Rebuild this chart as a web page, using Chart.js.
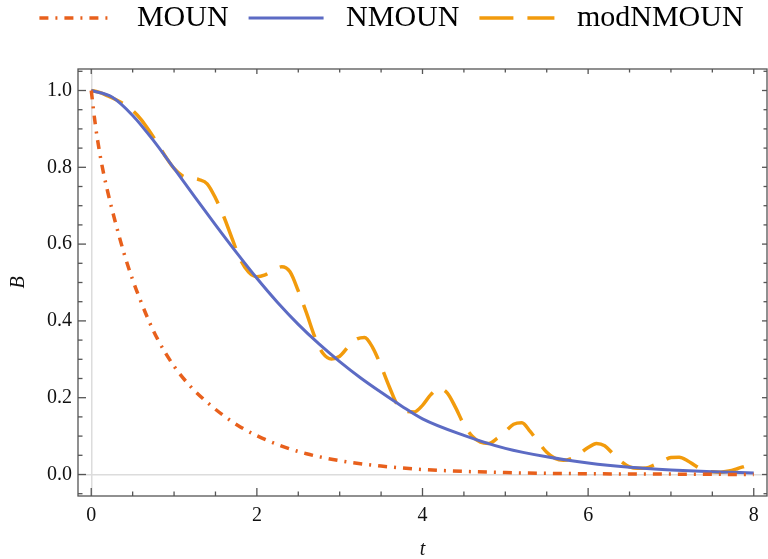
<!DOCTYPE html>
<html>
<head>
<meta charset="utf-8">
<script src="https://cdn.jsdelivr.net/npm/chart.js@4"></script>
<style>
  html,body{margin:0;padding:0;background:#fff;}
  #wrap{width:768px;height:559px;position:relative;}
</style>
</head>
<body>
<div id="wrap"><canvas id="c"></canvas></div>
<script>
// values
const tMoun = [0,0.05,0.1,0.15,0.2,0.3,0.4,0.5,0.6,0.7,0.8,1.0,1.2,1.4,1.6,1.8,2.0,2.3,2.6,3.0,3.5,4,5,6,7,8];
const moun  = [1.0,0.91,0.84,0.783,0.735,0.65,0.573,0.507,0.45,0.398,0.353,0.282,0.229,0.188,0.153,0.124,0.101,0.074,0.054,0.036,0.022,0.013,0.005,0.002,0.001,0.0];

const tNmoun = [0,0.25,0.5,0.75,1.0,1.25,1.5,1.75,2.0,2.25,2.5,2.75,3.0,3.25,3.5,3.75,4.0,4.5,5.0,5.5,6.0,6.5,7.0,7.5,8.0];
const nmoun  = [1.0,0.983,0.935,0.87,0.797,0.723,0.65,0.579,0.511,0.448,0.391,0.34,0.294,0.252,0.214,0.178,0.145,0.102,0.068,0.046,0.03,0.019,0.012,0.007,0.004];

const tMod = [0,0.1,0.2,0.3,0.4,0.5,0.6,0.7,0.8,0.9,1.0,1.1,1.2,1.3,1.4,1.5,1.6,1.7,1.8,1.9,
  2.0,2.1,2.2,2.3,2.4,2.5,2.6,2.7,2.8,2.9,3.0,3.1,3.2,3.3,3.4,3.5,3.6,3.7,3.8,3.9,
  4.0,4.1,4.2,4.3,4.4,4.5,4.6,4.7,4.8,4.9,5.0,5.1,5.2,5.3,5.4,5.5,5.6,5.7,5.8,5.9,
  6.0,6.1,6.2,6.3,6.4,6.5,6.6,6.7,6.8,6.9,7.0,7.1,7.2,7.3,7.4,7.5,7.6,7.7,7.8,7.9,8.0];
const modNmoun = [1.0,0.995,0.986,0.976,0.964,0.948,0.925,0.895,0.862,0.827,0.797,0.778,0.772,0.768,0.757,0.72,0.672,0.615,0.56,0.527,
  0.515,0.52,0.532,0.541,0.528,0.478,0.42,0.358,0.315,0.301,0.308,0.332,0.352,0.357,0.33,0.282,0.228,0.18,0.165,0.163,
  0.18,0.208,0.224,0.212,0.174,0.13,0.1,0.084,0.081,0.094,0.112,0.131,0.135,0.112,0.084,0.058,0.042,0.037,0.042,0.055,
  0.07,0.081,0.075,0.054,0.034,0.02,0.016,0.017,0.025,0.035,0.044,0.045,0.036,0.022,0.011,0.007,0.006,0.009,0.015,0.022,0.029];

const xMajor = [0,2,4,6,8];
const yMajor = [0,0.2,0.4,0.6,0.8,1.0];

const xy = (ts, bs) => ts.map((t,i)=>({x:t, y:bs[i]}));
const isMajor = (v, list) => list.some(m => Math.abs(m - v) < 1e-6);
const SERIF = '"Liberation Serif", "Times New Roman", serif';
const zeroGrid = c => c.tick && Math.abs(c.tick.value) < 1e-9 ? '#dcdcdc' : 'rgba(0,0,0,0)';

// frame with inward ticks, like the original
const frame = {
  id:'frame',
  afterDatasetsDraw(chart){
    const {ctx, chartArea:{left,right,top,bottom}, scales:{x,y}} = chart;
    ctx.save();
    ctx.strokeStyle = '#555';
    ctx.lineWidth = 1.3;
    ctx.strokeRect(left, top, right-left, bottom-top);
    const seg = (a,b,c,d)=>{ ctx.beginPath(); ctx.moveTo(a,b); ctx.lineTo(c,d); ctx.stroke(); };
    x.ticks.forEach(t=>{
      const px = x.getPixelForValue(t.value), mj = isMajor(t.value, xMajor);
      seg(px, bottom, px, bottom-(mj?8:4.5));
      seg(px, top, px, top+(mj?5:3.5));
    });
    y.ticks.forEach(t=>{
      const py = y.getPixelForValue(t.value), mj = isMajor(t.value, yMajor);
      seg(left, py, left+(mj?8:4.5), py);
      seg(right, py, right-(mj?5:3.5), py);
    });
    ctx.restore();
  }
};

new Chart(document.getElementById('c'), {
  type:'line',
  data:{
    datasets:[
      {label:'MOUN', data:xy(tMoun, moun), borderColor:'#E8601C', borderWidth:3.5, borderDash:[9,7,2,7]},
      {label:'NMOUN', data:xy(tNmoun, nmoun), borderColor:'#5C6BC4', borderWidth:3},
      {label:'modNMOUN', data:xy(tMod, modNmoun), borderColor:'#F29B0C', borderWidth:3.5, borderDash:[34,14]},
    ]
  },
  options:{
    responsive:true, maintainAspectRatio:false, animation:false,
    layout:{padding:{left:16, right:1, top:-17, bottom:0}},
    elements:{point:{radius:0, pointStyle:'line'}, line:{cubicInterpolationMode:'monotone', borderCapStyle:'butt'}},
    plugins:{
      tooltip:{enabled:false},
      legend:{
        position:'top',
        labels:{
          usePointStyle:true, pointStyleWidth:75, padding:20, color:'#111',
          font:{family:SERIF, size:30},
          generateLabels:chart=>chart.data.datasets.map((d,i)=>({
            text:' ' + d.label, strokeStyle:d.borderColor, fillStyle:d.borderColor,
            lineWidth:d.borderWidth, lineDash:d.borderDash||[], lineCap:'butt',
            pointStyle:'line', datasetIndex:i, hidden:false
          }))
        }
      }
    },
    scales:{
      x:{
        type:'linear', min:-0.16, max:8.16,
        afterFit:s=>{ s.height = 63; },
        ticks:{stepSize:0.5, includeBounds:false, autoSkip:false, maxRotation:0, padding:8, color:'#111',
          font:{family:SERIF, size:20},
          callback:v=>isMajor(v, xMajor) ? String(Math.round(v)) : ''},
        grid:{drawTicks:false, lineWidth:1.5, color:zeroGrid},
        border:{display:false},
        title:{display:true, text:'t', color:'#111', font:{family:SERIF, size:20, style:'italic'}, padding:{top:0, bottom:-3}}
      },
      xTop:{
        type:'linear', position:'top', min:-0.16, max:8.16,
        afterFit:s=>{ s.height = 26; },
        ticks:{display:false}, grid:{display:false}, border:{display:false}
      },
      y:{
        min:-0.056, max:1.056,
        afterFit:s=>{ s.width = 62; },
        ticks:{stepSize:0.05, includeBounds:false, autoSkip:false, padding:6, color:'#111',
          font:{family:SERIF, size:20},
          callback:v=>isMajor(v, yMajor) ? v.toFixed(1) : ''},
        grid:{drawTicks:false, lineWidth:1.5, color:zeroGrid},
        border:{display:false},
        title:{display:true, text:'B', color:'#111', font:{family:SERIF, size:20, style:'italic'}, padding:{top:-9, bottom:0}}
      }
    }
  },
  plugins:[frame]
});
</script>
</body>
</html>
